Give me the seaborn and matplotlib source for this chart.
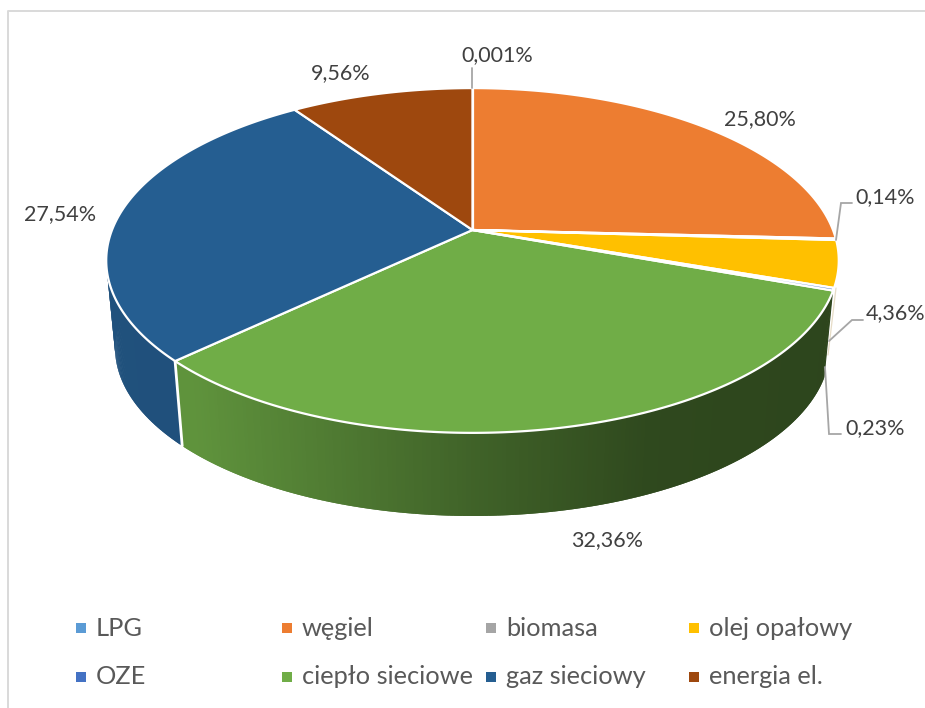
import numpy as np
import pandas as pd
import matplotlib
matplotlib.use("Agg")
import matplotlib.pyplot as plt
from matplotlib.patches import Polygon
import seaborn as sns

categories = ["LPG", "węgiel", "biomasa", "olej opałowy", "OZE", "ciepło sieciowe", "gaz sieciowy", "energia el."]
values = [0.001, 25.80, 0.14, 4.36, 0.23, 32.36, 27.54, 9.56]
value_labels = ["0,001%", "25,80%", "0,14%", "4,36%", "0,23%", "32,36%", "27,54%", "9,56%"]
colors = ["#5b9bd5", "#ed7d31", "#a5a5a5", "#ffc000", "#4472c4", "#70ad47", "#255e91", "#9e480e"]

sns.set_theme(style="white")
plt.rcParams["font.family"] = ["Lato", "DejaVu Sans"]

fig = plt.figure(figsize=(9.25, 7.08), dpi=100)
ax = fig.add_axes([0, 0, 1, 1])
ax.set_xlim(0, 925)
ax.set_ylim(708, 0)
ax.axis("off")

# perspective projection of the pie disc into pixel space
CX, CY = 472.5, 230.0
K, A, B = 0.1768, 167.0, 360.5
DEPTH, SHRINK = 88.0, 0.976


def top(theta):
    x, y = np.sin(theta), np.cos(theta)
    w = 1 + K * y
    return CX + B * x / w, CY - A * y / w


def bottom(theta):
    px, py = top(theta)
    return CX + SHRINK * (px - CX), CY + DEPTH + SHRINK * (py - CY)


def shade(color, x):
    f = np.interp(x, [100, 190, 470, 650, 840], [0.86, 0.85, 0.57, 0.42, 0.40])
    return np.array(matplotlib.colors.to_rgb(color)) * f


total = sum(values)
edges = np.concatenate([[0], np.cumsum(values)]) / total * 2 * np.pi

# side wall, only on the slices that face the viewer; each quad overlaps the next to hide seams
for i, name in enumerate(categories):
    if name not in ("ciepło sieciowe", "gaz sieciowy"):
        continue
    th = np.linspace(edges[i], edges[i + 1], 200)
    order = range(len(th) - 1)
    for j in order:
        a = th[j]
        b = th[min(j + 2, len(th) - 1)]
        tx, ty = top(np.array([a, b]))
        bx, by = bottom(np.array([a, b]))
        c = shade(colors[i], tx.mean())
        ax.add_patch(Polygon([(tx[0], ty[0]), (tx[1], ty[1]), (bx[1], by[1]), (bx[0], by[0])],
                             closed=True, fc=c, ec="none", lw=0, zorder=2))

# white edge between the two walls
th_split = edges[categories.index("gaz sieciowy")]
ax.plot([top(th_split)[0], bottom(th_split)[0]], [top(th_split)[1], bottom(th_split)[1]],
        color="white", lw=2, zorder=3)

# top face: the thinnest slices go last so that their colour stays visible
for i in np.argsort(values)[::-1]:
    th = np.linspace(edges[i], edges[i + 1], max(3, int(values[i] * 8)))
    tx, ty = top(th)
    pts = np.column_stack([np.r_[CX, tx], np.r_[CY, ty]])
    ax.add_patch(Polygon(pts, closed=True, fc=colors[i], ec="white", lw=1.6, joinstyle="round", zorder=4))

# leader lines and the faint sliver of the narrow slices' wall
leader_color = "#a6a6a6"
leaders = [
    ([472, 472], [88, 68]),
    ([836, 841, 852], [240, 203, 203]),
    ([829, 852, 863], [341, 320, 320]),
    ([825, 829, 841], [367, 434, 434]),
]
for lx, ly in leaders:
    ax.plot(lx, ly, color=leader_color, lw=1.3, zorder=5, solid_joinstyle="miter")
ax.plot([836, 828], [288, 355], color="#e6dcc6", lw=0.9, zorder=1.5)

# data labels
label_pos = [(497, 55), (760, 119), (885, 197), (896, 313), (875, 428), (607, 540), (60, 214), (341, 73)]
for (x, y), s in zip(label_pos, value_labels):
    ax.text(x, y, s, ha="center", va="center", fontsize=15.5, color="#404040", zorder=6)

# chart frame (left and top only are inside the crop)
ax.plot([8, 8, 925], [708, 11, 11], color="#d9d9d9", lw=1.4, zorder=1)

# legend
legend_x = [81, 287, 491, 694]
legend_y = [628, 677]
rows = []
for i, name in enumerate(categories):
    rows.append({"name": name, "x": legend_x[i % 4], "y": legend_y[i // 4]})
df = pd.DataFrame(rows)
sns.scatterplot(data=df, x="x", y="y", hue="name", palette=dict(zip(categories, colors)),
                marker="s", s=62, linewidth=0, legend=False, ax=ax, zorder=6)
for _, r in df.iterrows():
    ax.text(r["x"] + 15, r["y"], r["name"], ha="left", va="center", fontsize=18.3, color="#595959", zorder=6)
ax.set_xlabel("")
ax.set_ylabel("")
ax.set_xlim(0, 925)
ax.set_ylim(708, 0)

fig.savefig("out.png", dpi=100)
